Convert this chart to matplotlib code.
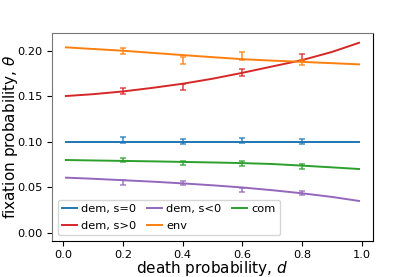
import matplotlib
matplotlib.use("Agg")
import matplotlib.pyplot as plt

# theory curves
d_line = [0.01, 0.1, 0.2, 0.3, 0.4, 0.5, 0.6, 0.7, 0.8, 0.9, 0.99]
dem0_line = [0.100, 0.100, 0.100, 0.100, 0.100, 0.100, 0.100, 0.100, 0.100, 0.100, 0.100]
dempos_line = [0.1505, 0.1525, 0.1555, 0.1595, 0.1640, 0.1695, 0.1760, 0.1830, 0.1900, 0.1990, 0.2090]
demneg_line = [0.0608, 0.0596, 0.0580, 0.0564, 0.0545, 0.0524, 0.0500, 0.0470, 0.0436, 0.0396, 0.0352]
env_line = [0.2040, 0.2022, 0.2003, 0.1979, 0.1955, 0.1932, 0.1910, 0.1894, 0.1880, 0.1866, 0.1853]
com_line = [0.0802, 0.0797, 0.0792, 0.0787, 0.0781, 0.0775, 0.0768, 0.0758, 0.0740, 0.0721, 0.0703]

# simulations
d_sim = [0.2, 0.4, 0.6, 0.8]
dem0_sim = [0.1020, 0.1005, 0.1012, 0.1008]
dem0_err = [0.0030, 0.0028, 0.0028, 0.0028]
dempos_sim = [0.1558, 0.1604, 0.1767, 0.1929]
dempos_err = [0.0030, 0.0036, 0.0038, 0.0040]
demneg_sim = [0.0553, 0.0547, 0.0472, 0.0442]
demneg_err = [0.0025, 0.0024, 0.0022, 0.0022]
env_sim = [0.2000, 0.1896, 0.1947, 0.1874]
env_err = [0.0033, 0.0038, 0.0042, 0.0032]
com_sim = [0.0804, 0.0769, 0.0766, 0.0733]
com_err = [0.0025, 0.0023, 0.0026, 0.0026]

labels = ["dem, s=0", "dem, s>0", "dem, s<0", "env", "com"]
colors = ["#1f77b4", "#d62728", "#9467bd", "#ff7f0e", "#2ca02c"]

fig = plt.figure(figsize=(4.15, 2.77), dpi=100)
ax = fig.add_axes([0.125, 0.13, 0.774, 0.751])

lines = [dem0_line, dempos_line, demneg_line, env_line, com_line]
sims = [dem0_sim, dempos_sim, demneg_sim, env_sim, com_sim]
errs = [dem0_err, dempos_err, demneg_err, env_err, com_err]

for ln, sm, er, lab, c in zip(lines, sims, errs, labels, colors):
    ax.plot(d_line, ln, color=c, lw=1.4, label=lab)
    ax.errorbar(d_sim, sm, yerr=er, fmt='none', ecolor=c, elinewidth=1.3,
                capsize=2.4, capthick=1.2, alpha=0.75)

ax.set_xlim(-0.037, 1.037)
ax.set_ylim(-0.0088, 0.2198)
ax.set_xticks([0.0, 0.2, 0.4, 0.6, 0.8, 1.0])
ax.set_yticks([0.00, 0.05, 0.10, 0.15, 0.20])
ax.set_yticklabels(["0.00", "0.05", "0.10", "0.15", "0.20"])
ax.tick_params(labelsize=8.2, pad=3)
for side in ["top", "left"]:
    ax.spines[side].set_color("#777777")
ax.set_xlabel(r"death probability, $d$", fontsize=11)
ax.set_ylabel(r"fixation probability, $\theta$", fontsize=11)
ax.xaxis.set_label_coords(0.5, -0.085)
ax.yaxis.set_label_coords(-0.1, 0.5)
ax.legend(loc="lower left", ncol=3, fontsize=8.2, handlelength=1.3,
          columnspacing=0.9, handletextpad=0.4, borderpad=0.4, labelspacing=0.55)

fig.savefig("out.png", dpi=100)
